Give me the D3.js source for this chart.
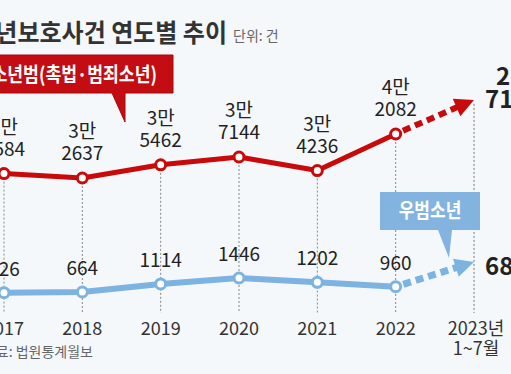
<!DOCTYPE html>
<html>
<head>
<meta charset="utf-8">
<script src="https://cdn.jsdelivr.net/npm/d3@7"></script>
<style>
  body { margin: 0; background: #f5f8fb; }
  svg { display: block; }
  text { font-family: "Liberation Sans Narrow", "Noto Sans CJK KR", sans-serif; }
  .kr { font-family: "Noto Sans CJK KR", sans-serif; }
</style>
</head>
<body>
<div id="chart"></div>
<script>
      var years = ['2017', '2018', '2019', '2020', '2021', '2022', '2023'];
      var yearLabels = ['2017', '2018', '2019', '2020', '2021', '2022', '2023년'];
      var yearSub = ['', '', '', '', '', '', '1~7월'];
      // 소년보호사건 (촉법·범죄소년)
      var redValues = [33584, 32637, 35462, 37144, 34236, 42082];
      // 우범소년
      var blueValues = [626, 664, 1114, 1446, 1202, 960];
      // 2023년 1~7월 (arrow end only shows a rising trend)
      var red2023 = 27136;
      var blue2023 = 683;
      var redTrendTo = 49400;
      var blueTrendTo = 2340;

      var width = 511;
      var height = 374;
      var red = '#c80a0a';
      var blue = '#7db3e0';

      var svg = d3.select('#chart').append('svg')
                  .attr('width', width)
                  .attr('height', height);
      svg.append('rect').attr('width', width).attr('height', height).attr('fill', '#f5f8fb');

      var x = d3.scalePoint().domain(years).range([4, 474]);
      var yRed = d3.scaleLinear().domain([32637, 42082]).range([178, 134]);
      var yBlue = d3.scaleLinear().domain([664, 1446]).range([292, 278]);
      var gridBottom = 313;

      var redPts = redValues.map(function(v, i){ return { x: x(years[i]), y: yRed(v), v: v }; });
      var bluePts = blueValues.map(function(v, i){ return { x: x(years[i]), y: yBlue(v), v: v }; });

      // title
      svg.append('text').attr('class', 'kr')
         .attr('transform', 'translate(227,42) scale(0.96,1)')
         .attr('text-anchor', 'end')
         .attr('font-size', 25).attr('font-weight', 600).attr('fill', '#333')
         .text('소년보호사건 연도별 추이');
      svg.append('text').attr('class', 'kr')
         .attr('x', 233).attr('y', 41)
         .attr('font-size', 14).attr('fill', '#666')
         .text('단위: 건');

      // vertical dashed guides
      svg.append('g').selectAll('line').data(redPts).enter().append('line')
         .attr('x1', function(d){ return d.x; }).attr('x2', function(d){ return d.x; })
         .attr('y1', function(d){ return d.y; }).attr('y2', gridBottom)
         .attr('stroke', '#888').attr('stroke-width', 1).attr('stroke-dasharray', '2,2');
      svg.append('line')
         .attr('x1', x('2023')).attr('x2', x('2023'))
         .attr('y1', yRed(redTrendTo) + 4).attr('y2', gridBottom)
         .attr('stroke', '#777').attr('stroke-width', 1).attr('stroke-dasharray', '2,2');

      // trend arrows
      function arrow(p, tx, ty, color, w) {
        var ang = Math.atan2(ty - p.y, tx - p.x);
        var L = 19, hw = 9.5;
        var bx = tx - L * Math.cos(ang), by = ty - L * Math.sin(ang);
        svg.append('line')
           .attr('x1', p.x + 8 * Math.cos(ang)).attr('y1', p.y + 8 * Math.sin(ang))
           .attr('x2', bx + 2 * Math.cos(ang)).attr('y2', by + 2 * Math.sin(ang))
           .attr('stroke', color).attr('stroke-width', w).attr('stroke-dasharray', '8,5');
        var px = -Math.sin(ang), py = Math.cos(ang);
        svg.append('path')
           .attr('d', 'M' + tx + ',' + ty + 'L' + (bx + hw * px) + ',' + (by + hw * py) +
                      'L' + (bx - hw * px) + ',' + (by - hw * py) + 'Z')
           .attr('fill', color);
      }
      arrow(redPts[5], x('2023'), yRed(redTrendTo), red, 6);
      arrow(bluePts[5], x('2023'), yBlue(blueTrendTo), blue, 7);

      // lines
      var line = d3.line().x(function(d){ return d.x; }).y(function(d){ return d.y; });
      svg.append('path').datum(redPts).attr('d', line)
         .attr('fill', 'none').attr('stroke', red).attr('stroke-width', 5).attr('stroke-linejoin', 'round');
      svg.append('path').datum(bluePts).attr('d', line)
         .attr('fill', 'none').attr('stroke', blue).attr('stroke-width', 6).attr('stroke-linejoin', 'round');

      // points
      svg.append('g').selectAll('circle').data(redPts).enter().append('circle')
         .attr('cx', function(d){ return d.x; }).attr('cy', function(d){ return d.y; })
         .attr('r', 5).attr('fill', '#fff').attr('stroke', red).attr('stroke-width', 3);
      svg.append('g').selectAll('circle').data(bluePts).enter().append('circle')
         .attr('cx', function(d){ return d.x; }).attr('cy', function(d){ return d.y; })
         .attr('r', 5).attr('fill', '#fff').attr('stroke', blue).attr('stroke-width', 3);

      // value labels
      var rl = svg.append('g').attr('font-size', 19).attr('fill', '#222').attr('text-anchor', 'middle');
      rl.selectAll('.man').data(redPts).enter().append('text')
        .attr('x', function(d){ return d.x; }).attr('y', function(d){ return d.y - 40; })
        .text(function(d){ return Math.floor(d.v / 10000) + '만'; });
      rl.selectAll('.rest').data(redPts).enter().append('text')
        .attr('x', function(d){ return d.x; }).attr('y', function(d){ return d.y - 18; })
        .text(function(d){ return d.v % 10000; });
      svg.append('g').attr('font-size', 19).attr('fill', '#222').attr('text-anchor', 'middle')
         .selectAll('text').data(bluePts).enter().append('text')
         .attr('x', function(d){ return d.x; }).attr('y', function(d){ return d.y - 17; })
         .text(function(d){ return d.v; });

      // 2023 values
      svg.append('text').attr('x', 496).attr('y', 85)
         .attr('font-size', 24).attr('font-weight', 'bold').attr('fill', '#222')
         .text(Math.floor(red2023 / 10000) + '만');
      svg.append('text').attr('x', 485).attr('y', 108)
         .attr('font-size', 24).attr('font-weight', 'bold').attr('fill', '#222')
         .text(red2023 % 10000);
      svg.append('text').attr('x', 485).attr('y', 275)
         .attr('font-size', 24).attr('font-weight', 'bold').attr('fill', '#222')
         .text(blue2023);

      // x labels
      var xl = svg.append('g').attr('font-size', 18).attr('fill', '#333').attr('text-anchor', 'middle');
      xl.selectAll('.yr').data(years).enter().append('text')
        .attr('x', function(d, i){ return x(d) + (i === 6 ? 2 : 0); }).attr('y', 335)
        .text(function(d, i){ return yearLabels[i]; });
      xl.selectAll('.sub').data(years).enter().append('text')
        .attr('x', function(d){ return x(d) + 2; }).attr('y', 355)
        .text(function(d, i){ return yearSub[i]; });

      // source
      svg.append('text').attr('class', 'kr')
         .attr('x', 93).attr('y', 357).attr('text-anchor', 'end')
         .attr('font-size', 14).attr('fill', '#666')
         .text('자료: 법원통계월보');

      // red callout
      var rb = svg.append('g');
      rb.append('path')
        .attr('d', 'M-10,55H173V93H125L125,122L112,93H-10Z')
        .attr('fill', '#c40d12').attr('stroke', '#a00a0e').attr('stroke-width', 1);
      rb.append('text').attr('class', 'kr')
        .attr('transform', 'translate(157,82) scale(0.86,1)').attr('text-anchor', 'end')
        .attr('font-size', 20).attr('font-weight', 'bold').attr('fill', '#fff')
        .text('소년범(촉법·범죄소년)');

      // blue callout
      var bb = svg.append('g');
      bb.append('path')
        .attr('d', 'M380,192H480V230H452L449,258L438,230H380Z')
        .attr('fill', '#82b4df');
      bb.append('text').attr('class', 'kr')
        .attr('transform', 'translate(430,218) scale(0.85,1)').attr('text-anchor', 'middle')
        .attr('font-size', 20).attr('font-weight', 'bold').attr('fill', '#fff')
        .text('우범소년');
</script>
</body>
</html>
